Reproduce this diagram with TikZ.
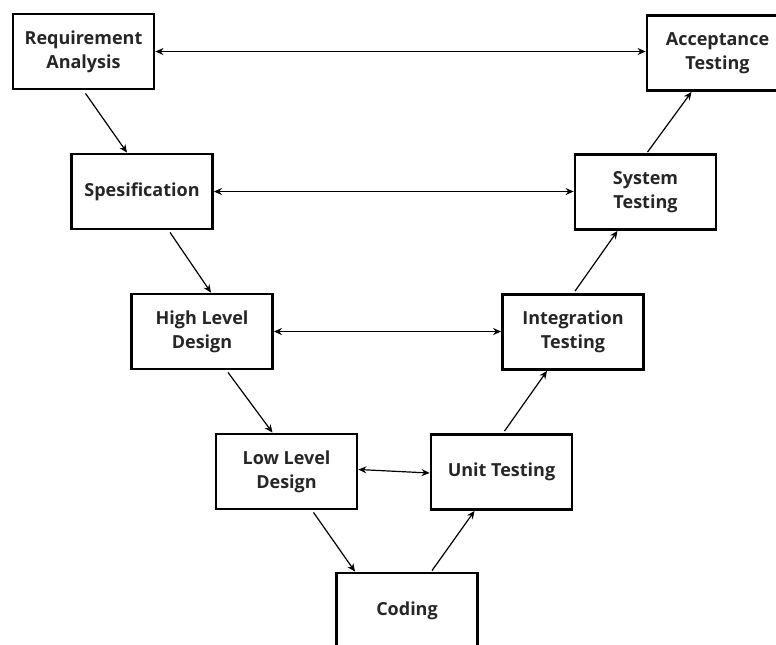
\documentclass[tikz,border=0pt]{standalone}
\usepackage{fontspec}
\setmainfont{Open Sans}
\usetikzlibrary{calc,arrows.meta}

\begin{document}
\begin{tikzpicture}[x=0.5pt,y=-0.5pt,
    phase/.style={draw, line width=1.4pt, minimum width=70.5pt, minimum height=37.5pt,
        align=center, text=black!85, font=\bfseries\fontsize{9}{12}\selectfont},
    link/.style={line width=0.6pt, -{Stealth[length=4pt,width=3.5pt]}},
    pair/.style={line width=0.6pt, {Stealth[length=4pt,width=3.5pt]}-{Stealth[length=4pt,width=3.5pt]}}]
    \useasboundingbox (0,0) rectangle (776,644);

    % left leg
    \node[phase] (req) at (83.5,51.5)  {Requirement\\Analysis};
    \node[phase] (spes) at (142,191.5) {Spesification};
    \node[phase] (hld) at (202,331.5)  {High Level\\Design};
    \node[phase] (lld) at (286.5,471.5) {Low Level\\Design};
    \node[phase] (cod) at (407,610.5)  {Coding};

    % right leg
    \node[phase] (ut) at (501.5,472)   {Unit Testing};
    \node[phase] (it) at (573,332)     {Integration\\Testing};
    \node[phase] (st) at (645.5,192)   {System\\Testing};
    \node[phase] (acc) at (717.5,53)   {Acceptance\\Testing};

    % going down
    \draw[link] ($(req.south)+(2,3)$)  -- ($(spes.north)+(-15,0)$);
    \draw[link] ($(spes.south)+(28,2)$) -- ($(hld.north)+(9,0)$);
    \draw[link] ($(hld.south)+(26,2)$) -- ($(lld.north)+(-14,0)$);
    \draw[link] ($(lld.south)+(27,2)$) -- ($(cod.north)+(-52,0)$);

    % going up
    \draw[link] ($(cod.north)+(25,-1)$) -- ($(ut.south)+(-27,0)$);
    \draw[link] ($(ut.north)+(3,-2)$)  -- ($(it.south)+(-26,0)$);
    \draw[link] ($(it.north)+(2,-2)$)  -- ($(st.south)+(-28,0)$);
    \draw[link] ($(st.north)+(2,-1)$)  -- ($(acc.south)+(-26,0)$);

    % verification pairs
    \draw[pair] (req.east)  -- (acc.west |- req.east);
    \draw[pair] (spes.east) -- (st.west |- spes.east);
    \draw[pair] (hld.east)  -- (it.west |- hld.east);
    \draw[pair] ($(lld.east)+(0,-2)$) -- ($(ut.west)+(0,1)$);
\end{tikzpicture}
\end{document}
